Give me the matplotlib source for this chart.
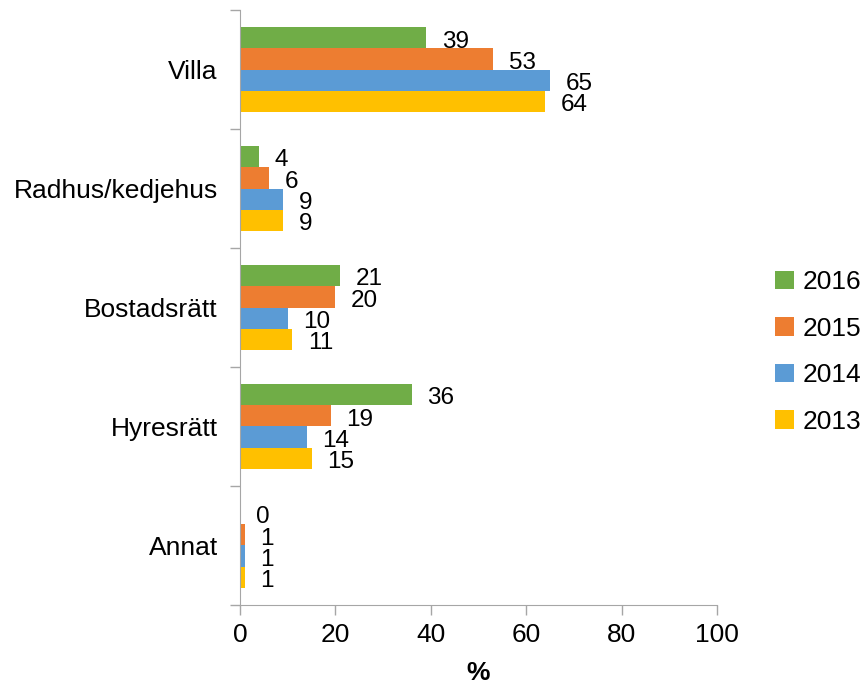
import numpy as np
import matplotlib.pyplot as plt

plt.rcParams['font.family'] = ['Liberation Sans', 'DejaVu Sans']

# Kategorier och värden (%)
kategorier = ['Villa', 'Radhus/kedjehus', 'Bostadsrätt', 'Hyresrätt', 'Annat']
ar = ['2016', '2015', '2014', '2013']
v2016 = [39, 4, 21, 36, 0]
v2015 = [53, 6, 20, 19, 1]
v2014 = [65, 9, 10, 14, 1]
v2013 = [64, 9, 11, 15, 1]
serier = [v2016, v2015, v2014, v2013]
farger = ['#70ad47', '#ed7d31', '#5b9bd5', '#ffc000']

fig = plt.figure(figsize=(8.64, 6.87), dpi=100)
ax = fig.add_axes([0.2778, 0.1194, 0.5521, 0.8660])

n = len(kategorier)
y = np.arange(n)
h = 0.177
for i, (vals, c) in enumerate(zip(serier, farger)):
    pos = y - 1.5 * h + i * h
    ax.barh(pos, vals, height=h, color=c, label=ar[i])
    for p, v in zip(pos, vals):
        ax.text(v + 3.3, p + 0.03, str(v), va='center', ha='left', fontsize=17.5)

ax.set_ylim(n - 0.5, -0.5)
ax.set_xlim(0, 100)
ax.set_xticks(range(0, 101, 20))
ax.set_yticks(y)
ax.set_yticklabels(kategorier)
ax.set_yticks(np.arange(-0.5, n, 1), minor=True)
ax.tick_params(axis='y', which='major', length=0, pad=16, labelsize=19)
ax.tick_params(axis='y', which='minor', length=7, color='#a6a6a6', width=1)
ax.tick_params(axis='x', length=7, color='#a6a6a6', width=1, labelsize=19, pad=6)
for s in ['top', 'right']:
    ax.spines[s].set_visible(False)
for s in ['left', 'bottom']:
    ax.spines[s].set_color('#a6a6a6')
ax.set_xlabel('%', fontsize=19, fontweight='bold', labelpad=10)

ax.legend(loc='center left', bbox_to_anchor=(1.083, 0.425), frameon=False,
          fontsize=19, handlelength=0.7, handleheight=0.7, handletextpad=0.35,
          labelspacing=0.85, borderaxespad=0.3)

fig.savefig('out.png', dpi=100)
